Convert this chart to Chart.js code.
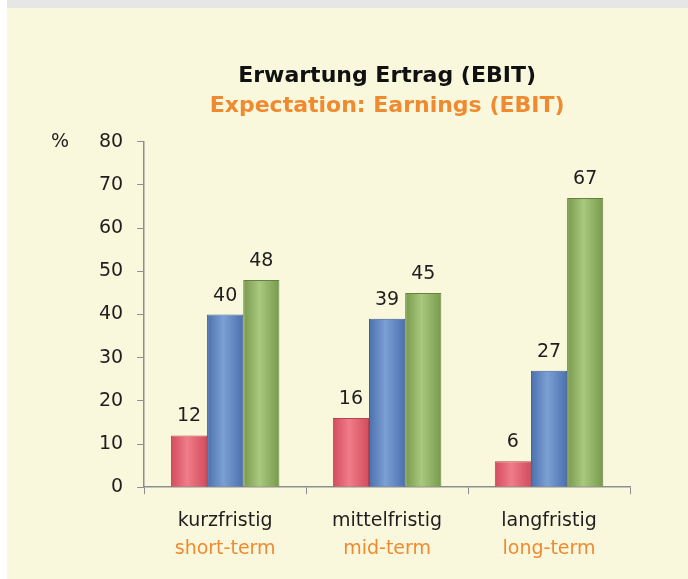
<!DOCTYPE html>
<html>
<head>
<meta charset="utf-8">
<title>Erwartung Ertrag (EBIT)</title>
<script src="https://cdn.jsdelivr.net/npm/chart.js@4.4.1/dist/chart.umd.min.js"></script>
<style>
  html, body { margin: 0; padding: 0; background: #fff; }
  #topbar { position: absolute; left: 7px; top: 0; width: 681px; height: 8px; background: #e6e6e6; }
  #wrap { position: absolute; left: 7px; top: 8px; width: 681px; height: 571px; background: #faf8dc; }
</style>
</head>
<body>
<div id="topbar"></div>
<div id="wrap"><canvas id="chart" width="681" height="571"></canvas></div>
<script>
/* Erwartung Ertrag (EBIT) — grouped bars */

const categoriesDe = ["kurzfristig", "mittelfristig", "langfristig"];
const categoriesEn = ["short-term", "mid-term", "long-term"];
const redValues = [12, 16, 6];
const blueValues = [40, 39, 27];
const greenValues = [48, 45, 67];
const yMax = 80;
const yStep = 10;

const FONT = "'DejaVu Sans', sans-serif";
const ORANGE = "#f08a30";
const TEXT = "#1e1e1e";

const CAT_PCT = 0.67;

// colours per series: [edge, centre, border]
const SHADES = [
  ["#d24c5c", "#f07c8a", "#b54450"],
  ["#4b70ad", "#7c9fd4", "#3f5f92"],
  ["#789a4c", "#a9c97e", "#66823f"]
];

// horizontal shading, position taken from the x scale
function barGradient(ctx) {
  const chart = ctx.chart;
  const x = chart.scales.x;
  const shade = SHADES[ctx.datasetIndex];
  if (!x || x.width === undefined || !chart.chartArea) return shade[0];
  const catW = x.width / categoriesDe.length;
  const barW = catW * CAT_PCT / 3;
  const left = x.getPixelForValue(ctx.dataIndex) - catW * CAT_PCT / 2 + ctx.datasetIndex * barW;
  const g = chart.ctx.createLinearGradient(left, 0, left + barW, 0);
  g.addColorStop(0, shade[0]);
  g.addColorStop(0.45, shade[1]);
  g.addColorStop(1, shade[0]);
  return g;
}

const extraText = {
  id: "extraText",
  afterDatasetsDraw(chart) {
    const c = chart.ctx;
    const x = chart.scales.x;
    const y = chart.scales.y;
    c.save();
    c.font = "19px " + FONT;
    c.fillStyle = TEXT;
    c.textAlign = "center";
    c.textBaseline = "alphabetic";
    chart.data.datasets.forEach((ds, i) => {
      chart.getDatasetMeta(i).data.forEach((bar, j) => {
        c.fillText(String(ds.data[j]), bar.x, bar.y - 14);
      });
    });
    // percent sign beside the top tick
    c.textAlign = "left";
    c.textBaseline = "middle";
    c.fillText("%", 44, y.getPixelForValue(yMax));
    // english category line under the german tick labels
    c.textAlign = "center";
    c.fillStyle = ORANGE;
    categoriesEn.forEach((t, i) => {
      c.fillText(t, x.getPixelForValue(i), y.bottom + 62);
    });
    c.restore();
  }
};

function makeDataset(values, idx) {
  return {
    data: values,
    backgroundColor: barGradient,
    borderColor: SHADES[idx][2],
    borderWidth: 1,
    categoryPercentage: CAT_PCT,
    barPercentage: 1.0
  };
}

new Chart(document.getElementById("chart"), {
  type: "bar",
  data: {
    labels: categoriesDe,
    datasets: [makeDataset(redValues, 0), makeDataset(blueValues, 1), makeDataset(greenValues, 2)]
  },
  options: {
    responsive: false,
    animation: false,
    layout: { padding: { left: 78, right: 58, top: 55, bottom: 32 } },
    plugins: {
      legend: { display: false },
      tooltip: { enabled: false },
      title: {
        display: true, fullSize: false,
        text: "Erwartung Ertrag (EBIT)",
        color: "#111",
        font: { family: FONT, size: 22, weight: "bold" },
        padding: { top: 0, bottom: 4 }
      },
      subtitle: {
        display: true, fullSize: false,
        text: "Expectation: Earnings (EBIT)",
        color: ORANGE,
        font: { family: FONT, size: 22, weight: "bold" },
        padding: { top: 0, bottom: 22 }
      }
    },
    scales: {
      x: {
        grid: { display: true, drawOnChartArea: false, offset: true, tickLength: 7, color: "#8e8e8e" },
        border: { color: "#8e8e8e", width: 1.5 },
        ticks: { color: TEXT, font: { family: FONT, size: 19 }, padding: 15 }
      },
      y: {
        min: 0, max: yMax,
        grid: { display: true, drawOnChartArea: false, tickLength: 7, color: "#8e8e8e" },
        border: { color: "#8e8e8e", width: 1.5 },
        ticks: { stepSize: yStep, color: TEXT, font: { family: FONT, size: 19 }, padding: 14 }
      }
    }
  },
  plugins: [extraText]
});
</script>
</body>
</html>
